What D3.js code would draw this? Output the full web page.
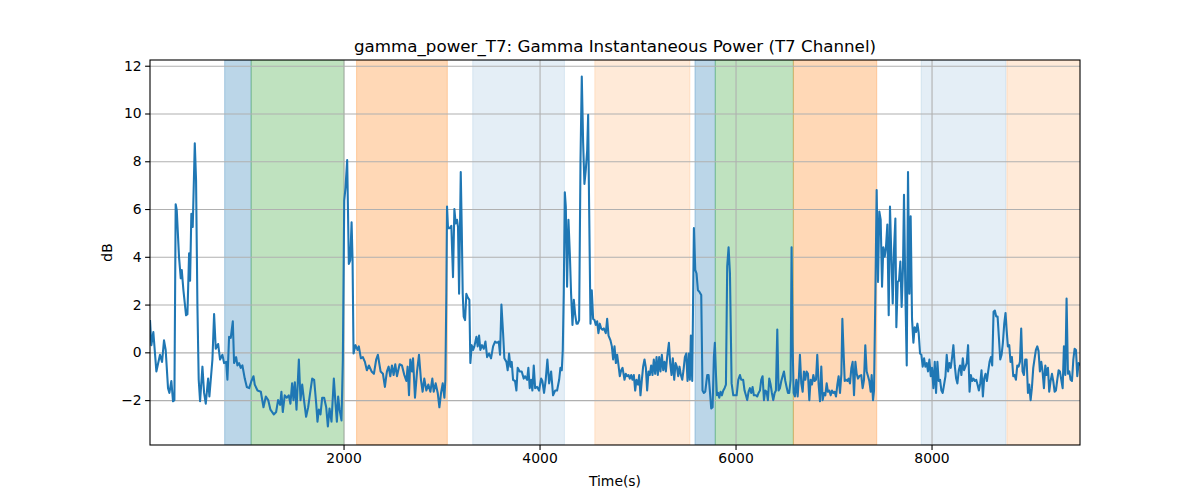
<!DOCTYPE html>
<html>
<head>
<meta charset="utf-8">
<script src="https://cdn.jsdelivr.net/npm/d3@7"></script>
<style>
  body { margin: 0; background: #fff; }
  svg { font-family: "DejaVu Sans", sans-serif; }
</style>
</head>
<body>
<div id="chart"></div>
<script>
// time stamps (s) and power (dB)
const timeSec = [
  25,39,59,90,127,148,168,185,209,223,243,260,274,287,298,321,339,349,366,393,407,424,434,447,461,471,482,495,509,522,536,560,577,594,618,631,662,679,696,720,740,764,781,802,815,832,849,870,883,904,917,934,951,968,992,1013,1037,1060,1081,1094,1122,1156,1183,1207,1231,
  1254,1288,1312,1332,1353,1366,1380,1400,1421,1441,1458,1475,1489,1503,1520,1544,1561,1578,1598,1618,1639,1659,1680,1700,1721,1734,1748,1765,1782,1802,1823,1840,1857,1877,1901,1918,1932,1945,1959,1979,1993,2007,2020,2037,2054,2068,2082,2092,2102,2122,2143,2156,2177,2197,2218,2238,2259,2286,2310,2333,2350,2378,2402,2422,2436,
  2443,2460,2477,2494,2511,2528,2545,2572,2596,2620,2641,2654,2668,2681,2698,2709,2729,2750,2770,2790,2807,2824,2845,2865,2886,2906,2920,2940,2961,2978,2995,3012,3029,3039,3049,3056,3066,3083,3100,3117,3131,3144,3158,3168,3179,3196,3206,3216,3226,3240,3253,3267,3284,3294,3308,3322,3335,3356,3369,3383,3396,3413,3431,3448,3465,3485,3505,3526,3546,3567,3584,3597,3611,
  3628,3641,3662,3675,3689,3703,3716,3730,3750,3764,3777,3798,3818,3839,3852,3873,3886,3900,3914,3927,3941,3955,3975,3995,4016,4029,4046,4063,4080,4098,4118,4138,4159,4179,4200,4213,4227,4237,4247,4258,4268,4281,4295,4309,4322,4336,4350,4363,4377,4390,4404,4418,4431,4445,4458,4472,4486,4496,4506,4520,4533,4547,4561,4574,4588,4601,4615,4629,4642,4656,4676,4690,4704,4724,4738,4751,4765,4779,4792,4806,4819,4833,4847,
  4867,4880,4894,4908,4921,4935,4948,4962,4976,4989,5006,5017,5030,5044,5057,5071,5085,5098,5112,5125,5139,5153,5166,5180,5194,5207,5221,5234,5248,5262,5275,5289,5302,5320,5333,5347,5360,5374,5388,5401,5415,5428,5442,5456,5469,5483,5497,5510,5524,5534,5544,5558,5575,5589,5602,5616,5629,5650,5663,5677,5691,5711,5725,5738,5752,5766,5779,5789,5800,5810,5823,5834,5847,5861,5875,5888,5902,5915,5929,5943,5960,5977,5997,6011,6028,6045,6058,
  6078,6092,6106,6119,6133,6147,6160,6174,6187,6208,6221,6235,6249,6262,6276,6290,6303,6317,6330,6344,6358,6371,6385,6399,6412,6426,6439,6453,6467,6480,6494,6508,6521,6535,6548,6562,6572,6582,6593,6606,6620,6634,6647,6657,6671,6685,6698,6712,6725,6739,6753,6766,6780,6794,6807,6821,6834,6848,6862,6875,6889,6903,6916,6930,6943,6957,6971,6984,6998,7011,7025,7039,7052,7066,7080,7090,7103,7114,7127,7141,7154,7168,7182,7195,7209,7223,7236,7250,7263,
  7283,7297,7311,7324,7338,7352,7365,7379,7389,7403,7413,7427,7440,7454,7467,7481,7495,7508,7522,7535,7549,7563,7576,7590,7604,7617,7631,7641,7655,7668,7682,7695,7709,7719,7733,7747,7760,7774,7787,7801,7815,7828,7842,7856,7869,7883,7896,7910,7924,7937,7951,7964,7978,7992,8005,8019,8033,8046,8060,8073,8087,8101,8114,8128,8142,8155,8169,8182,8196,8210,8223,8237,8251,8264,8278,8291,8305,8319,8332,8346,8359,8373,
  8388,8401,8415,8428,8442,8456,8469,8483,8497,8510,8524,8537,8551,8565,8578,8592,8606,8619,8633,8646,8660,8674,8687,8701,8715,8728,8742,8755,8766,8779,8793,8806,8820,8834,8847,8861,8875,8888,8902,8915,8929,8943,8956,8970,8984,8997,9011,9024,9038,9052,9065,9079,9092,9106,9120,9133,9147,9161,9174,9188,9201,9215,9229,9242,9256,9269,9283,9297,9310,9324,9338,9351,9365,9378,9392,9406,9419,9433,9447,9460,9474,9487,9501,9515
];
const powerDb = [
  1.35,0.3,0.85,-0.8,-0.1,-0.4,0.5,0.1,-1.5,-1.7,-1.2,-2.05,-2.0,6.2,5.95,4.0,3.1,3.45,2.6,1.55,1.6,4.15,3.0,5.8,5.25,6.9,8.75,7.2,1.9,-1.15,-2.05,-0.6,-1.7,-2.15,-1.1,-1.85,-0.3,1.6,0.15,0.35,-0.3,-0.1,-0.45,-0.4,-1.15,0.65,0.6,1.3,-0.45,-0.2,-0.55,-0.45,-0.65,-0.55,-1.1,-1.45,-1.5,-1.2,-1.0,-1.35,-1.6,-1.65,-2.3,-1.85,-2.0,
  -2.4,-2.6,-2.5,-2.0,-2.2,-1.65,-2.5,-1.8,-1.9,-1.8,-2.15,-1.3,-2.0,-1.25,-2.4,-0.3,-2.0,-1.35,-2.05,-2.7,-2.3,-1.7,-1.1,-1.15,-2.15,-2.9,-2.4,-2.6,-1.9,-1.9,-2.3,-3.1,-2.35,-2.9,-1.1,-2.15,-2.9,-1.85,-2.4,-2.85,-0.3,6.35,6.9,8.05,3.7,3.85,5.45,3.85,-0.05,0.3,0.1,0.25,-0.25,-0.2,-0.4,-0.75,-0.55,-0.8,-0.9,-0.3,-0.1,-0.8,-0.9,-1.45,-1.0,
  -0.8,-0.6,-1.0,-0.55,-0.95,-0.5,-1.0,-0.5,-0.55,-0.95,-1.2,-0.6,-1.8,-0.3,-0.8,-0.25,-1.9,-0.8,-0.1,-1.15,-1.65,-1.1,-1.6,-1.35,-1.65,-1.1,-1.65,-1.3,-1.7,-2.3,-1.7,-1.3,-1.9,-1.15,2.45,6.1,5.2,5.2,5.3,3.15,6.0,5.4,5.55,5.25,2.45,7.55,5.25,2.45,1.5,1.35,2.45,2.3,2.2,-0.45,0.3,0.1,0.25,0.65,0.25,0.7,0.1,0.3,0.15,0.45,-0.2,-0.05,-0.25,0.25,0.45,0.4,0.45,-0.1,2.0,
  0.8,-0.25,-0.4,-0.75,-0.05,-0.6,-0.4,-1.15,-1.2,-1.6,-0.65,-0.8,-0.8,-1.1,-1.0,-1.15,-0.65,-1.5,-1.15,-1.6,-0.55,-1.5,-1.45,-1.6,-1.1,-1.2,-1.7,-1.15,-0.3,-1.3,-0.8,-1.8,-1.6,-1.6,-1.15,-0.65,-0.75,0.1,2.45,6.7,6.1,2.75,5.55,4.15,2.45,1.15,2.2,1.6,1.2,1.2,1.35,8.05,11.55,8.75,7.05,7.65,8.45,9.95,6.1,1.2,2.6,1.4,1.35,1.15,1.3,0.8,1.2,1.0,0.95,1.0,0.8,1.4,0.7,0.5,0.25,-0.3,0.25,-0.45,-0.1,-0.55,-1.0,-0.75,-0.65,
  -1.15,-0.9,-1.0,-0.95,-1.1,-0.95,-1.15,-0.95,-1.6,-1.15,-1.35,-0.95,-1.8,-1.15,-0.6,-0.3,-0.65,-1.6,-0.8,-0.95,-0.55,-0.95,-0.3,-0.9,-0.2,-0.95,-0.2,-0.8,-0.1,-0.75,-0.4,-0.8,-0.2,0.4,-0.45,-0.95,-0.25,-1.15,-0.45,-0.6,-1.0,-0.6,-0.95,-1.15,-0.75,-0.2,-0.05,-1.2,-0.05,-1.15,0.7,-1.2,5.2,3.45,3.3,2.6,2.55,2.4,-1.6,-1.7,-1.65,-0.95,-0.95,-1.6,-2.35,-2.3,-0.2,0.4,-0.9,-1.8,-1.7,-1.9,-1.65,-1.8,-1.6,-1.5,-1.35,3.6,4.4,3.3,-1.3,-1.8,-1.8,-1.8,-1.15,-0.95,-1.15,
  -1.15,-1.6,-1.8,-2.0,-1.65,-1.5,-1.7,-1.45,-1.8,-1.8,-1.85,-1.7,-1.6,-1.15,-1.0,-2.0,-1.6,-1.65,-2.0,-1.1,-1.35,-1.7,-2.0,-1.7,-1.6,0.95,-1.6,-1.5,-1.2,-1.0,-0.8,-1.2,-1.45,-1.7,-1.7,-1.15,4.4,0.4,-1.7,-1.85,-1.15,-1.85,-1.0,-0.1,-1.3,-1.65,-0.8,-1.15,-0.8,-0.9,-2.0,-1.15,-1.35,-0.95,-1.2,-1.15,-0.1,-1.35,-2.05,-0.6,-2.0,-1.7,-1.8,-1.3,-1.65,-1.6,-1.8,-1.6,-1.7,-1.65,-1.85,-1.35,-1.0,-1.7,-0.9,1.4,-0.05,-1.2,-1.15,-1.2,-1.1,-1.3,-0.65,-0.4,-1.8,-0.4,-0.9,-1.1,-1.0,
  -0.95,-1.5,-1.15,0.3,-0.8,-1.0,-1.2,-1.65,-0.95,-2.0,-1.6,2.45,6.8,2.95,5.9,5.55,2.75,4.4,4.0,4.4,5.35,1.55,6.1,4.0,2.05,4.3,5.6,1.05,2.95,3.0,3.8,1.9,3.6,6.6,2.45,-0.55,7.55,2.45,5.7,1.4,0.4,1.05,0.85,1.2,0.8,-0.05,-0.1,-0.6,-0.25,-0.6,-0.45,-0.8,-0.3,-1.0,-0.65,-1.5,-0.4,-1.7,-0.4,-1.2,-1.15,-1.6,-1.7,-1.35,-1.0,-0.1,-0.8,-0.45,-0.65,-0.2,0.3,-0.55,-1.1,-1.3,-0.75,-0.55,-0.95,-0.25,-0.75,-0.6,-0.45,0.3,
  -1.65,-0.95,-1.2,-1.1,-1.2,-1.15,-1.35,-1.6,-1.3,-0.75,-1.85,-1.1,-0.9,-1.2,-0.8,-0.4,-0.2,-0.55,1.7,1.75,1.5,1.5,0.65,-0.3,-0.1,0.4,1.2,1.65,0.95,0.25,0.3,-0.4,-0.2,-1.0,-0.95,-1.15,-0.55,-0.6,-0.4,1.0,-0.8,-0.95,-0.3,-0.3,-1.7,-1.35,-2.0,-1.5,-0.65,-0.25,0.1,0.25,0.05,-0.8,-0.4,-0.8,-1.5,-0.55,-0.95,-0.65,-1.65,-1.2,-0.9,-1.2,-1.65,-1.6,-1.15,-0.75,-0.8,-1.15,-1.5,0.25,-0.95,2.25,-0.9,-0.8,-1.15,-1.2,-0.3,0.15,0.1,-1.0,-0.45,-0.55
];

// shaded periods: start, end, colour, opacity
const spanStart = [787, 1057, 2133, 3318, 4564, 5586, 5793, 6590, 7894, 8769];
const spanEnd   = [1057, 2003, 3059, 4254, 5534, 5793, 6590, 7441, 8759, 9520];
const spanColor = ["#1f77b4", "#2ca02c", "#ff7f0e", "#1f77b4", "#ff7f0e", "#1f77b4", "#2ca02c", "#ff7f0e", "#1f77b4", "#ff7f0e"];
const spanAlpha = [0.3, 0.3, 0.3, 0.12, 0.16, 0.3, 0.3, 0.3, 0.12, 0.16];

const xTicks = [2000, 4000, 6000, 8000];
const yTicks = [-2, 0, 2, 4, 6, 8, 10, 12];

const width = 1200, height = 500;
const margin = { top: 60, right: 120, bottom: 55, left: 150 };

const svg = d3.select("#chart").append("svg")
  .attr("width", width)
  .attr("height", height);

const x = d3.scaleLinear().domain([25, 9515]).range([margin.left, width - margin.right]);
const y = d3.scaleLinear().domain([-3.88, 12.24]).range([height - margin.bottom, margin.top]);

svg.append("clipPath").attr("id", "clip")
  .append("rect")
  .attr("x", margin.left).attr("y", margin.top)
  .attr("width", width - margin.left - margin.right)
  .attr("height", height - margin.top - margin.bottom);

const plot = svg.append("g").attr("clip-path", "url(#clip)");

// spans
plot.selectAll("rect.span")
  .data(spanStart.map((s, i) => ({ s, e: spanEnd[i], c: spanColor[i], a: spanAlpha[i] })))
  .enter().append("rect")
  .attr("class", "span")
  .attr("x", d => x(d.s))
  .attr("width", d => x(d.e) - x(d.s))
  .attr("y", margin.top)
  .attr("height", height - margin.top - margin.bottom)
  .attr("fill", d => d.c)
  .attr("fill-opacity", d => d.a)
  .attr("stroke", d => d.c)
  .attr("stroke-opacity", d => d.a)
  .attr("stroke-width", 1);

// grid
const gx = d3.axisBottom(x).tickValues(xTicks).tickSize(-(height - margin.top - margin.bottom)).tickFormat("");
const gy = d3.axisLeft(y).tickValues(yTicks).tickSize(-(width - margin.left - margin.right)).tickFormat("");
plot.append("g").attr("transform", `translate(0,${height - margin.bottom})`).call(gx)
  .call(g => g.select(".domain").remove())
  .selectAll("line").attr("stroke", "#b0b0b0").attr("stroke-width", 1.1);
plot.append("g").attr("transform", `translate(${margin.left},0)`).call(gy)
  .call(g => g.select(".domain").remove())
  .selectAll("line").attr("stroke", "#b0b0b0").attr("stroke-width", 1.1);

// signal line
const line = d3.line()
  .x((d, i) => x(timeSec[i]))
  .y(d => y(d));

plot.append("path")
  .datum(powerDb)
  .attr("fill", "none")
  .attr("stroke", "#1f77b4")
  .attr("stroke-width", 2.08)
  .attr("stroke-linejoin", "round")
  .attr("d", line);

// axes
const fmt = d => d < 0 ? "\u2212" + Math.abs(d) : String(d);
const xAxis = svg.append("g")
  .attr("transform", `translate(0,${height - margin.bottom})`)
  .call(d3.axisBottom(x).tickValues(xTicks).tickSize(4.9).tickPadding(3.5).tickFormat(fmt));
const yAxis = svg.append("g")
  .attr("transform", `translate(${margin.left},0)`)
  .call(d3.axisLeft(y).tickValues(yTicks).tickSize(4.9).tickPadding(3.5).tickFormat(fmt));

[xAxis, yAxis].forEach(a => {
  a.select(".domain").remove();
  a.selectAll("line").attr("stroke", "#000").attr("stroke-width", 1.1);
  a.selectAll("text").attr("font-size", "13.9px").attr("fill", "#000")
    .attr("font-family", "DejaVu Sans, sans-serif");
});

// frame
svg.append("rect")
  .attr("x", margin.left).attr("y", margin.top)
  .attr("width", width - margin.left - margin.right)
  .attr("height", height - margin.top - margin.bottom)
  .attr("fill", "none").attr("stroke", "#000").attr("stroke-width", 1.1);

// labels
svg.append("text")
  .attr("x", (margin.left + width - margin.right) / 2).attr("y", 52)
  .attr("text-anchor", "middle").attr("font-size", "16.7px")
  .text("gamma_power_T7: Gamma Instantaneous Power (T7 Channel)");

svg.append("text")
  .attr("x", (margin.left + width - margin.right) / 2).attr("y", 486)
  .attr("text-anchor", "middle").attr("font-size", "13.9px")
  .text("Time(s)");

svg.append("text")
  .attr("transform", `translate(112,${(margin.top + height - margin.bottom) / 2}) rotate(-90)`)
  .attr("text-anchor", "middle").attr("font-size", "13.9px")
  .text("dB");
</script>
</body>
</html>
